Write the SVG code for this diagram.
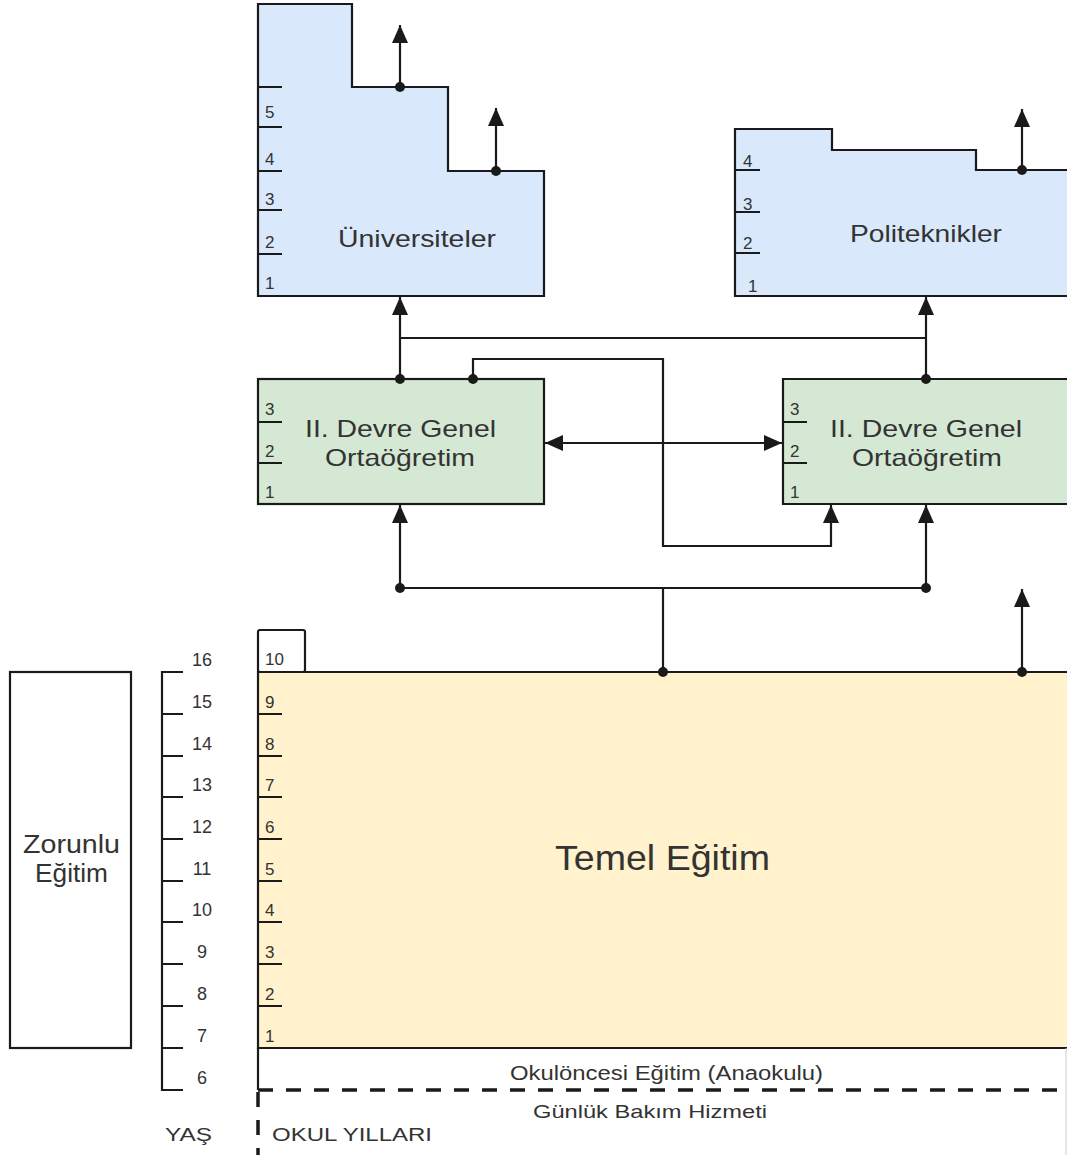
<svg xmlns="http://www.w3.org/2000/svg" width="1067" height="1155" viewBox="0 0 1067 1155">
<style>
.ln{fill:none;stroke:#1a1a1a;stroke-width:2.2}
.box{stroke:#1a1a1a;stroke-width:2.2}
.t{font-family:"Liberation Sans",Arial,sans-serif;fill:#333}
.d{font-family:"Liberation Sans",Arial,sans-serif;fill:#333;font-size:17px}
.s{font-family:"Liberation Sans",Arial,sans-serif;fill:#333;font-size:18px;text-anchor:middle}
.dash{fill:none;stroke:#1a1a1a;stroke-width:3.5;stroke-dasharray:15 13}
</style>
<defs>
<marker id="arr" viewBox="0 0 18 16" refX="18" refY="8" markerWidth="18" markerHeight="16" markerUnits="userSpaceOnUse" orient="auto-start-reverse">
<path d="M0,0 L18,8 L0,16 Z" fill="#1a1a1a"/>
</marker>
<circle id="dot" r="5" fill="#1a1a1a"/>
</defs>
<rect width="1067" height="1155" fill="#fff"/>

<g id="universiteler">
<path class="box" fill="#dae8fc" d="M258,4 L352,4 L352,87 L448,87 L448,171 L544,171 L544,296 L258,296 Z"/>
<g class="ln"><path d="M258,87H282M258,127H282M258,171H282M258,210H282M258,254H282"/></g>
<text class="d" x="265" y="118">5</text>
<text class="d" x="265" y="165">4</text>
<text class="d" x="265" y="205">3</text>
<text class="d" x="265" y="248">2</text>
<text class="d" x="265" y="289">1</text>
<text class="t" x="338" y="247" font-size="24" textLength="158" lengthAdjust="spacingAndGlyphs">Üniversiteler</text>
</g>

<g id="politeknikler">
<path class="box" fill="#dae8fc" d="M1070,296 L735,296 L735,129 L832,129 L832,150 L976,150 L976,170 L1070,170"/>
<g class="ln"><path d="M735,170H760M735,212H760M735,253H760"/></g>
<text class="d" x="743" y="167">4</text>
<text class="d" x="743" y="210">3</text>
<text class="d" x="743" y="249">2</text>
<text class="d" x="748" y="292">1</text>
<text class="t" x="850" y="242" font-size="24" textLength="152" lengthAdjust="spacingAndGlyphs">Politeknikler</text>
</g>

<g id="ortaogretim1">
<rect class="box" fill="#d5e8d4" x="258" y="379" width="286" height="125"/>
<g class="ln"><path d="M258,422H282M258,463H282"/></g>
<text class="d" x="265" y="415">3</text>
<text class="d" x="265" y="457">2</text>
<text class="d" x="265" y="498">1</text>
<text class="t" x="305" y="437" font-size="24" textLength="191" lengthAdjust="spacingAndGlyphs">II. Devre Genel</text>
<text class="t" x="325" y="466" font-size="24" textLength="150" lengthAdjust="spacingAndGlyphs">Ortaöğretim</text>
</g>

<g id="ortaogretim2">
<path class="box" fill="#d5e8d4" d="M1070,379 L783,379 L783,504 L1070,504"/>
<g class="ln"><path d="M783,422H807M783,463H807"/></g>
<text class="d" x="790" y="415">3</text>
<text class="d" x="790" y="457">2</text>
<text class="d" x="790" y="498">1</text>
<text class="t" x="830" y="437" font-size="24" textLength="192" lengthAdjust="spacingAndGlyphs">II. Devre Genel</text>
<text class="t" x="852" y="466" font-size="24" textLength="150" lengthAdjust="spacingAndGlyphs">Ortaöğretim</text>
</g>

<g id="temel">
<rect class="box" fill="#fff" x="258" y="630" width="47" height="42" rx="2"/>
<text class="d" x="265" y="665">10</text>
<path class="box" fill="#fff2cc" d="M1070,672 L258,672 L258,1048 L1070,1048"/>
<g class="ln"><path d="M258,714H282M258,756H282M258,797H282M258,839H282M258,881H282M258,922H282M258,964H282M258,1006H282"/></g>
<text class="d" x="265" y="708">9</text>
<text class="d" x="265" y="750">8</text>
<text class="d" x="265" y="791">7</text>
<text class="d" x="265" y="833">6</text>
<text class="d" x="265" y="875">5</text>
<text class="d" x="265" y="916">4</text>
<text class="d" x="265" y="958">3</text>
<text class="d" x="265" y="1000">2</text>
<text class="d" x="265" y="1042">1</text>
<text class="t" x="555" y="870" font-size="35" textLength="215" lengthAdjust="spacingAndGlyphs">Temel Eğitim</text>
</g>

<g id="okuloncesi">
<path class="ln" d="M258,1048 L258,1090"/>
<text class="t" x="510" y="1080" font-size="20" textLength="313" lengthAdjust="spacingAndGlyphs">Okulöncesi Eğitim (Anaokulu)</text>
</g>

<g id="gunluk">
<path class="dash" d="M258,1090 H1067"/>
<path class="dash" d="M258,1092 V1155" stroke-dasharray="12 14"/>
<path d="M1066,1048 V1155" stroke="#ccc" stroke-width="1"/>
<text class="t" x="533" y="1118" font-size="19" textLength="234" lengthAdjust="spacingAndGlyphs">Günlük Bakım Hizmeti</text>
<text class="t" x="272" y="1141" font-size="18" textLength="160" lengthAdjust="spacingAndGlyphs">OKUL YILLARI</text>
</g>

<g id="zorunlu">
<rect class="box" fill="#fff" x="10" y="672" width="121" height="376"/>
<text class="t" x="23" y="853" font-size="25" textLength="97" lengthAdjust="spacingAndGlyphs">Zorunlu</text>
<text class="t" x="35" y="882" font-size="25" textLength="73" lengthAdjust="spacingAndGlyphs">Eğitim</text>
</g>

<g id="yas">
<path class="ln" d="M183,672 H162 V1090 H183 M162,714H183M162,756H183M162,797H183M162,839H183M162,881H183M162,922H183M162,964H183M162,1006H183M162,1048H183"/>
<text class="s" x="202" y="666">16</text>
<text class="s" x="202" y="708">15</text>
<text class="s" x="202" y="750">14</text>
<text class="s" x="202" y="791">13</text>
<text class="s" x="202" y="833">12</text>
<text class="s" x="202" y="875">11</text>
<text class="s" x="202" y="916">10</text>
<text class="s" x="202" y="958">9</text>
<text class="s" x="202" y="1000">8</text>
<text class="s" x="202" y="1042">7</text>
<text class="s" x="202" y="1084">6</text>
<text class="t" x="165" y="1141" font-size="18" textLength="47" lengthAdjust="spacingAndGlyphs">YAŞ</text>
</g>

<g id="connectors">
<path class="ln" d="M400,87 V25" marker-end="url(#arr)"/>
<use href="#dot" x="400" y="87"/>
<path class="ln" d="M496,171 V108" marker-end="url(#arr)"/>
<use href="#dot" x="496" y="171"/>
<path class="ln" d="M1022,170 V109" marker-end="url(#arr)"/>
<use href="#dot" x="1022" y="170"/>

<path class="ln" d="M400,379 V297" marker-end="url(#arr)"/>
<path class="ln" d="M400,338 H926"/>
<path class="ln" d="M926,379 V297" marker-end="url(#arr)"/>
<use href="#dot" x="400" y="379"/>
<use href="#dot" x="926" y="379"/>

<path class="ln" d="M473,379 V359 H663 V546 H831 V505" marker-end="url(#arr)"/>
<use href="#dot" x="473" y="379"/>

<path class="ln" d="M545,443 H782" marker-start="url(#arr)" marker-end="url(#arr)"/>

<path class="ln" d="M400,588 V505" marker-end="url(#arr)"/>
<path class="ln" d="M926,588 V505" marker-end="url(#arr)"/>
<path class="ln" d="M400,588 H926"/>
<path class="ln" d="M663,588 V672"/>
<use href="#dot" x="400" y="588"/>
<use href="#dot" x="926" y="588"/>
<use href="#dot" x="663" y="672"/>

<path class="ln" d="M1022,672 V589" marker-end="url(#arr)"/>
<use href="#dot" x="1022" y="672"/>
</g>
</svg>
